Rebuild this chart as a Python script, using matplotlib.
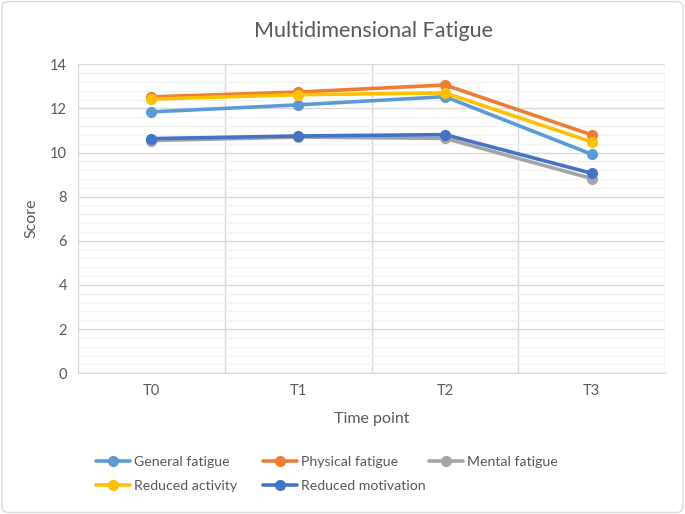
import matplotlib
matplotlib.use("Agg")
import matplotlib.pyplot as plt
from matplotlib.patches import FancyBboxPatch
import numpy as np

categories = ["T0", "T1", "T2", "T3"]
series_names = ["General fatigue", "Physical fatigue", "Mental fatigue",
                "Reduced activity", "Reduced motivation"]
general = [11.84, 12.16, 12.53, 9.92]
physical = [12.52, 12.74, 13.06, 10.8]
mental = [10.54, 10.7, 10.64, 8.82]
reduced_activity = [12.42, 12.62, 12.7, 10.48]
reduced_motivation = [10.63, 10.75, 10.81, 9.06]
colors = ["#5B9BD5", "#ED7D31", "#A5A5A5", "#FFC000", "#4472C4"]

plt.rcParams['font.family'] = ['Lato', 'DejaVu Sans']
txt = "#595959"

fig = plt.figure(figsize=(6.85, 5.14), dpi=100)
ax = fig.add_axes([0.114, 0.274, 0.857, 0.601])

x = np.arange(len(categories))
handles = []
for name, vals, c in zip(series_names,
                         [general, physical, mental, reduced_activity, reduced_motivation],
                         colors):
    h, = ax.plot(x, vals, color=c, lw=2.6, marker='o', ms=7, label=name,
                 solid_capstyle='round', zorder=3)
    handles.append(h)

ax.set_xlim(-0.5, 3.5)
ax.set_ylim(0, 14)
ax.set_yticks(np.arange(0, 15, 2))
ax.set_yticks(np.arange(0, 14.01, 0.4), minor=True)
ax.set_xticks(x)
ax.set_xticklabels(categories)
ax.set_xticks([0.5, 1.5, 2.5, 3.5], minor=True)
ax.grid(which='major', axis='y', color='#D9D9D9', lw=1)
ax.grid(which='minor', axis='y', color='#F2F2F2', lw=1)
ax.grid(which='minor', axis='x', color='#D9D9D9', lw=1)
ax.grid(which='major', axis='x', visible=False)
ax.tick_params(which='both', length=0, colors=txt, labelsize=10.5, pad=8)
for s in ['top', 'right']:
    ax.spines[s].set_visible(False)
for s in ['left', 'bottom']:
    ax.spines[s].set_color('#D9D9D9')
ax.set_axisbelow(True)

ax.set_xlabel("Time point", color=txt, fontsize=11.5, labelpad=10)
ax.set_ylabel("Score", color=txt, fontsize=11.5, labelpad=8)
fig.text(0.545, 0.94, "Multidimensional Fatigue", ha='center', va='center',
         color=txt, fontsize=15.5)

# Legend: three fixed-width columns like the original
columns = [[0, 3], [1, 4], [2]]
col_x = [0.121, 0.365, 0.607]
for ci, idxs in zip(col_x, columns):
    leg = fig.legend([handles[i] for i in idxs], [series_names[i] for i in idxs],
                     ncol=1, loc='upper left', frameon=False, fontsize=10.2,
                     handlelength=2.4, labelspacing=0.85, handletextpad=0.3)
    leg.set_bbox_to_anchor((ci, 0.138), transform=fig.transFigure)
    for t in leg.get_texts():
        t.set_color(txt)

border = FancyBboxPatch((0.003, 0.003), 0.994, 0.994,
                        boxstyle="round,pad=0,rounding_size=0.01",
                        transform=fig.transFigure, fc='none', ec='#D9D9D9', lw=1)
fig.patches.append(border)

fig.savefig("out.png", dpi=100, facecolor='white')
